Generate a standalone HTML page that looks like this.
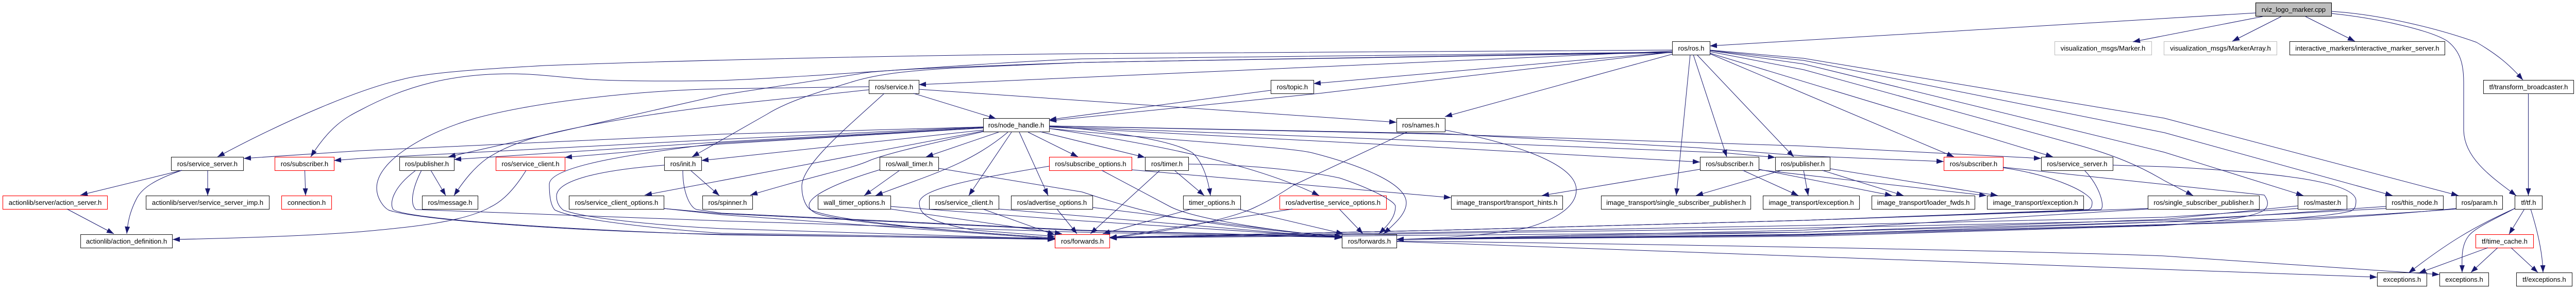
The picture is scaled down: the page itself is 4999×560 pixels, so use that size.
<!DOCTYPE html>
<html><head><meta charset="utf-8"><title>rviz_logo_marker.cpp include graph</title>
<style>
html,body{margin:0;padding:0;background:#fff;width:4999px;height:560px;overflow:hidden}
svg{display:block}
text{font-family:"Liberation Sans",sans-serif;font-size:13.1px;text-anchor:middle;fill:#000}
rect{fill:#fff;stroke:#222;stroke-width:1.1}
rect.r{stroke:#f00}
rect.g{stroke:#bfbfbf}
rect.t{fill:#bfbfbf;stroke:#000}
path{fill:none;stroke:#191970;stroke-width:1}
</style></head><body>
<svg xmlns="http://www.w3.org/2000/svg" width="4999" height="560" viewBox="0 0 4999 560">
<defs><marker id="a" viewBox="0 0 14 10" refX="14" refY="5" markerWidth="14" markerHeight="10" markerUnits="userSpaceOnUse" orient="auto"><polygon points="0,0 14,5 0,10" fill="#191970"/></marker></defs>
<g>
<rect class="t" x="4377.5" y="5.5" width="147" height="26"/><text x="4451" y="23">rviz_logo_marker.cpp</text>
<rect x="3245.5" y="80.5" width="73" height="26"/><text x="3282" y="98">ros/ros.h</text>
<rect class="g" x="3987.5" y="80.5" width="188" height="26"/><text x="4081" y="98">visualization_msgs/Marker.h</text>
<rect class="g" x="4199.5" y="80.5" width="219" height="26"/><text x="4309" y="98">visualization_msgs/MarkerArray.h</text>
<rect x="4443.5" y="80.5" width="301" height="26"/><text x="4594" y="98">interactive_markers/interactive_marker_server.h</text>
<rect x="1686.5" y="155.5" width="97" height="26"/><text x="1735" y="173">ros/service.h</text>
<rect x="2466.5" y="155.5" width="83" height="26"/><text x="2508" y="173">ros/topic.h</text>
<rect x="4819.5" y="155.5" width="175" height="26"/><text x="4907" y="173">tf/transform_broadcaster.h</text>
<rect x="1908.5" y="229.5" width="128" height="26"/><text x="1972" y="247">ros/node_handle.h</text>
<rect x="2710.5" y="229.5" width="94" height="26"/><text x="2757" y="247">ros/names.h</text>
<rect x="332.5" y="304.5" width="140" height="26"/><text x="402.5" y="322">ros/service_server.h</text>
<rect class="r" x="533.5" y="304.5" width="115" height="26"/><text x="591" y="322">ros/subscriber.h</text>
<rect x="775.5" y="304.5" width="106" height="26"/><text x="828.5" y="322">ros/publisher.h</text>
<rect class="r" x="962.5" y="304.5" width="134" height="26"/><text x="1029.5" y="322">ros/service_client.h</text>
<rect x="1289.5" y="304.5" width="72" height="26"/><text x="1325.5" y="322">ros/init.h</text>
<rect x="1707.5" y="304.5" width="114" height="26"/><text x="1764.5" y="322">ros/wall_timer.h</text>
<rect class="r" x="2036.5" y="304.5" width="160" height="26"/><text x="2116.5" y="322">ros/subscribe_options.h</text>
<rect x="2222.5" y="304.5" width="84" height="26"/><text x="2264.5" y="322">ros/timer.h</text>
<rect x="3299.5" y="304.5" width="114" height="26"/><text x="3356.5" y="322">ros/subscriber.h</text>
<rect x="3445.5" y="304.5" width="106" height="26"/><text x="3498.5" y="322">ros/publisher.h</text>
<rect class="r" x="3772.5" y="304.5" width="115" height="26"/><text x="3830" y="322">ros/subscriber.h</text>
<rect x="3961.5" y="304.5" width="139" height="26"/><text x="4031" y="322">ros/service_server.h</text>
<rect class="r" x="5.5" y="379.5" width="203" height="26"/><text x="107" y="397">actionlib/server/action_server.h</text>
<rect x="283.5" y="379.5" width="239" height="26"/><text x="403" y="397">actionlib/server/service_server_imp.h</text>
<rect class="r" x="546.5" y="379.5" width="97" height="26"/><text x="595" y="397">connection.h</text>
<rect x="819.5" y="379.5" width="108" height="26"/><text x="873.5" y="397">ros/message.h</text>
<rect x="1104.5" y="379.5" width="184" height="26"/><text x="1196.5" y="397">ros/service_client_options.h</text>
<rect x="1363.5" y="379.5" width="97" height="26"/><text x="1412" y="397">ros/spinner.h</text>
<rect x="1587.5" y="379.5" width="141" height="26"/><text x="1658" y="397">wall_timer_options.h</text>
<rect x="1803.5" y="379.5" width="135" height="26"/><text x="1871" y="397">ros/service_client.h</text>
<rect x="1962.5" y="379.5" width="158" height="26"/><text x="2041.5" y="397">ros/advertise_options.h</text>
<rect x="2296.5" y="379.5" width="111" height="26"/><text x="2352" y="397">timer_options.h</text>
<rect class="r" x="2483.5" y="379.5" width="207" height="26"/><text x="2587" y="397">ros/advertise_service_options.h</text>
<rect x="2816.5" y="379.5" width="216" height="26"/><text x="2924.5" y="397">image_transport/transport_hints.h</text>
<rect x="3107.5" y="379.5" width="290" height="26"/><text x="3252.5" y="397">image_transport/single_subscriber_publisher.h</text>
<rect x="3421.5" y="379.5" width="187" height="26"/><text x="3515" y="397">image_transport/exception.h</text>
<rect x="3632.5" y="379.5" width="200" height="26"/><text x="3732.5" y="397">image_transport/loader_fwds.h</text>
<rect x="3856.5" y="379.5" width="187" height="26"/><text x="3950" y="397">image_transport/exception.h</text>
<rect x="4168.5" y="379.5" width="216" height="26"/><text x="4276.5" y="397">ros/single_subscriber_publisher.h</text>
<rect x="4459.5" y="379.5" width="95" height="26"/><text x="4507" y="397">ros/master.h</text>
<rect x="4630.5" y="379.5" width="111" height="26"/><text x="4686" y="397">ros/this_node.h</text>
<rect x="4766.5" y="379.5" width="90" height="26"/><text x="4811.5" y="397">ros/param.h</text>
<rect x="4880.5" y="379.5" width="53" height="26"/><text x="4907" y="397">tf/tf.h</text>
<rect x="156.5" y="454.5" width="178" height="26"/><text x="245.5" y="472">actionlib/action_definition.h</text>
<rect class="r" x="2047.5" y="454.5" width="106" height="26"/><text x="2100.5" y="472">ros/forwards.h</text>
<rect x="2604.5" y="454.5" width="106" height="26"/><text x="2657.5" y="472">ros/forwards.h</text>
<rect class="r" x="4804.5" y="454.5" width="112" height="26"/><text x="4860.5" y="472">tf/time_cache.h</text>
<rect x="4613.5" y="528.5" width="96" height="26"/><text x="4661.5" y="546">exceptions.h</text>
<rect x="4734.5" y="528.5" width="95" height="26"/><text x="4782" y="546">exceptions.h</text>
<rect x="4883.5" y="528.5" width="108" height="26"/><text x="4937.5" y="546">tf/exceptions.h</text>
</g>
<g marker-end="url(#a)">
<!-- root -->
<path d="M4378 25L3318 89"/>
<path d="M4391 32L4139 81"/>
<path d="M4427 32L4332 80"/>
<path d="M4474 32L4570 80"/>
<path d="M4524 22C4620 28 4730 55 4806 82C4845 105 4870 125 4896 155"/>
<path d="M4524 26C4620 36 4720 60 4750 80C4775 100 4781 125 4781 160L4781 250C4781 304 4830 340 4883 379"/>
<path d="M4906.5 181L4906.5 379"/>
<!-- tf -->
<path d="M4880 404C4800 440 4750 470 4674 529"/>
<path d="M4880 404C4830 430 4801 443 4790 458C4775 478 4778 505 4778 528"/>
<path d="M4899 405L4869 454"/>
<path d="M4911 405C4925 450 4934 490 4935 528"/>
<path d="M4828 480L4694 529"/>
<path d="M4847 480L4795 528"/>
<path d="M4873 480L4925 528"/>
<!-- ros.h left -->
<path d="M3245 97L2100 104C1700 108 1300 118 1057 127C950 133 830 140 780 154C700 172 560 230 422 304"/>
<path d="M3245 101L2100 114C1900 122 1600 148 1400 156C1300 158 1200 157 1146 154C1080 149 1040 143 990 143C880 143 790 165 700 213C670 228 640 245 603 304"/>
<path d="M3245 102L2100 121C1900 128 1700 135 1668 143L1400 184L870 304"/>
<path d="M3245 101L2100 121L1846 132C1750 138 1700 145 1659 157C1600 175 1530 195 1489 221L1343 304"/>
<path d="M3245 99L1783 164"/>
<path d="M3245 101L2549 162"/>
<path d="M3245 105L2804 226"/>
<path d="M3245 101L2560 181L2036 234"/>
<path d="M2466 175L2036 232"/>
<path d="M1773 181L1933 230"/>
<path d="M1783 173L2710 237"/>
<!-- ros.h right -->
<path d="M3280 106L3253 379"/>
<path d="M3286 106L3351 304"/>
<path d="M3293 106L3481 304"/>
<path d="M3318 104L3792 304"/>
<path d="M3318 103L3984 304"/>
<path d="M3318 100L3500 135L4036 282C4100 300 4150 320 4200 350L4256 379"/>
<path d="M3318 98L3500 124L4200 295L4470 379"/>
<path d="M3318 98L3500 117L4200 257L4643 379"/>
<path d="M3318 97L3500 113L4200 229L4771 379"/>
<!-- service.h -->
<path d="M1686 168L1400 172C1250 175 1050 195 923 229C830 255 731 310 731 364C731 385 745 402 754 407C800 425 1100 448 1400 454L2047 464"/>
<path d="M1686 174L1400 204C1250 222 1080 250 1012 275C975 288 960 298 945 307C920 325 900 350 881 379"/>
<path d="M1716 181C1640 250 1556 320 1556 361C1556 385 1565 402 1574 407C1620 427 1800 445 2047 461"/>
<!-- node_handle left -->
<path d="M1908 246L1400 260L700 292L473 307"/>
<path d="M1908 246L1400 270L700 307L648 311"/>
<path d="M1908 247L1400 275L881 309"/>
<path d="M1908 248L1400 279L1096 305"/>
<path d="M1908 248L1400 277C1250 295 1066 320 1066 357C1066 385 1070 400 1077 407C1120 428 1300 445 1400 452L2047 462"/>
<path d="M1908 252L1400 307L1361 311"/>
<path d="M1908 254L1251 378"/>
<path d="M1908 255C1800 280 1730 295 1690 310C1650 328 1600 335 1456 378"/>
<path d="M1938 256L1797 304"/>
<path d="M1956 256C1880 320 1800 340 1699 379"/>
<path d="M1963 256L1880 379"/>
<path d="M1978 256L2034 379"/>
<path d="M1995 256L2092 304"/>
<path d="M2018 255L2222 305"/>
<!-- node_handle right -->
<path d="M2036 245L2100 250C2200 262 2280 275 2314 296C2335 315 2345 350 2349 379"/>
<path d="M2036 249C2250 280 2440 320 2560 379"/>
<path d="M2036 249C2300 275 2500 285 2546 296C2640 320 2729 355 2729 393C2729 415 2705 435 2685 453"/>
<path d="M2036 246L2800 286L3299 314"/>
<path d="M2036 245L2800 274L3345 296L3445 305"/>
<path d="M2036 244L2800 259L3291 286L3500 302L3772 313"/>
<path d="M2036 244L2800 260L3500 283L3961 307"/>
<!-- second-level left -->
<path d="M353 330L156 378"/>
<path d="M353 330C300 348 275 365 265 385C252 410 248 430 246 453"/>
<path d="M403 330L403 379"/>
<path d="M130 405L221 453"/>
<path d="M591.5 330L593 379"/>
<path d="M836 330L865 379"/>
<path d="M807 330C760 365 756 395 763 406C790 425 1100 445 1400 455L2047 463"/>
<path d="M818 330C800 365 795 395 807 406L1400 428L2100 450L2604 460"/>
<path d="M1021 330C990 380 965 395 950 402C900 430 800 440 700 449C600 457 450 462 335 464"/>
<path d="M1289 320C1160 330 1080 350 1080 380C1080 395 1088 403 1093 407C1140 425 1300 438 1400 443L2047 463"/>
<path d="M1325 330C1325 375 1340 403 1352 406L1400 413L2100 446L2604 459"/>
<path d="M1340 330L1396 379"/>
<path d="M1288 404L1400 414L2100 447L2604 459"/>
<path d="M1288 404L1400 416L2047 463"/>
<path d="M1707 329C1620 355 1570 380 1570 398C1570 405 1577 410 1583 413C1620 428 1800 445 2047 461"/>
<path d="M1746 330L1677 379"/>
<path d="M1821 326L2100 372C2160 392 2220 410 2279 421C2370 438 2500 450 2604 458"/>
<path d="M1728 400L2100 428L2604 460"/>
<path d="M1728 405L2061 453"/>
<path d="M1907 405L2047 455"/>
<path d="M1938 405L2604 461"/>
<path d="M2051 405L2090 453"/>
<path d="M2120 402L2604 461"/>
<path d="M2036 322C1900 345 1784 365 1784 393C1784 415 1800 430 1891 446L2047 458"/>
<path d="M2138 330L2270 400C2300 416 2400 440 2604 460"/>
<path d="M2196 329L2816 383"/>
<path d="M2251 330L2116 453"/>
<path d="M2279 330L2337 379"/>
<path d="M2306 318C2420 318 2540 332 2600 345C2660 365 2708 390 2708 400C2708 420 2695 435 2676 453"/>
<path d="M2312 405L2140 453"/>
<path d="M2403 405L2607 453"/>
<path d="M2508 405L2153 461"/>
<path d="M2599 405L2645 453"/>
<path d="M2730 256L2510 359C2470 385 2450 395 2439 400C2400 420 2300 445 2153 461"/>
<path d="M2804 252C2900 270 3059 310 3059 368C3059 400 3020 425 2965 441C2900 455 2800 462 2710 464"/>
<!-- image_transport -->
<path d="M3299 328L2992 379"/>
<path d="M3382 330L3490 379"/>
<path d="M3413 328L3672 379"/>
<path d="M3413 329L3855 379"/>
<path d="M3458 330L3291 379"/>
<path d="M3500 330L3509 379"/>
<path d="M3536 330L3694 379"/>
<path d="M3552 327L3877 379"/>
<!-- right bundle -->
<path d="M3887 325C3990 340 4060 375 4060 392C4060 400 4058 404 4053 406L3500 427L2800 446L2153 460"/>
<path d="M4045 330C4075 360 4085 400 4077 406L3500 427L2800 446L2153 460"/>
<path d="M3887 324L4394 378C4403 390 4402 400 4394 407C4375 420 4320 428 4200 437L3500 458L2710 464"/>
<path d="M4100 320L4200 323C4400 333 4572 350 4572 389C4572 400 4570 405 4562 409C4520 420 4400 428 4200 436L3500 456L2710 464"/>
<path d="M4766 404C4600 420 4400 432 4200 435L3500 454L2710 464"/>
<path d="M4766 405C4600 418 4400 428 4200 430L3500 450L2153 461"/>
<path d="M4459 399L4200 425L3500 450L2710 464"/>
<path d="M4459 404L4200 421L3500 437L2800 450L2153 460"/>
<path d="M4630 400L4200 430L3500 455L2710 464"/>
<path d="M4630 404L4200 427L3500 442L2800 452L2153 461"/>
<path d="M4168 404L3500 427L2800 446L2153 460"/>
<path d="M4168 405L3500 446L2710 464"/>
<path d="M2710 468L4613 537"/>
<path d="M2710 467C3200 473 3900 485 4200 496L4734 532"/>
</g>
</svg>
</body></html>
